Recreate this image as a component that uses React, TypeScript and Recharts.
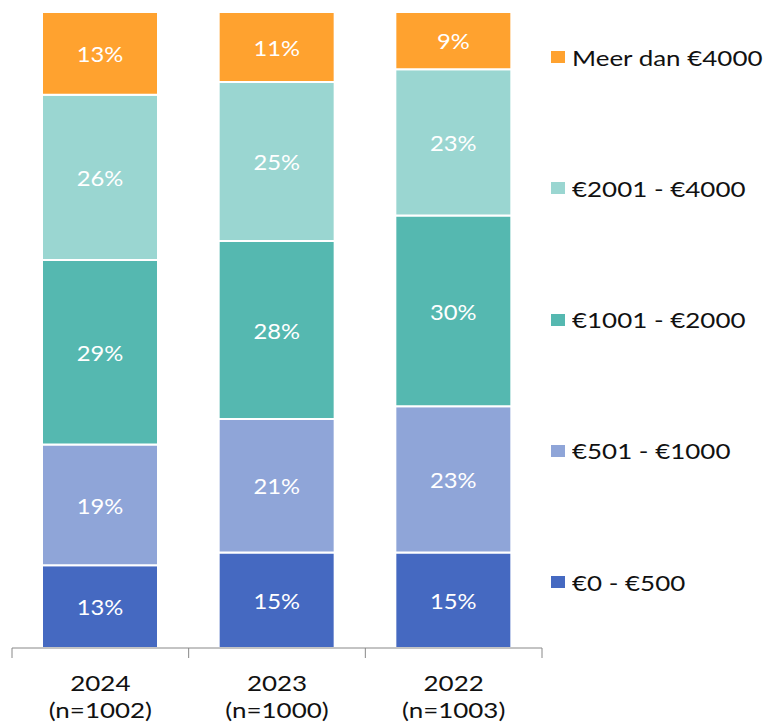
import { BarChart, Bar, XAxis, YAxis, Legend, LabelList } from "recharts";

const years = ["2024", "2023", "2022"];
const sampleSizes = ["(n=1002)", "(n=1000)", "(n=1003)"];

const upTo500 = [13, 15, 15];
const from501 = [19, 21, 23];
const from1001 = [29, 28, 30];
const from2001 = [26, 25, 23];
const over4000 = [13, 11, 9];

const SERIES = [
  { key: "a", name: "€0 - €500", values: upTo500, color: "#4569c1" },
  { key: "b", name: "€501 - €1000", values: from501, color: "#8fa5d8" },
  { key: "c", name: "€1001 - €2000", values: from1001, color: "#55b8b0" },
  { key: "d", name: "€2001 - €4000", values: from2001, color: "#9ad6d1" },
  { key: "e", name: "Meer dan €4000", values: over4000, color: "#ffa22f" },
];

const data = years.map((year, i) => {
  const row: Record<string, string | number> = { year };
  SERIES.forEach((s) => {
    row[s.key] = s.values[i];
  });
  return row;
});

const FONT = "Lato, 'Open Sans', sans-serif";
const BAND = 530 / 3;
// the reference text is a little wider than plain Lato
const STRETCH = 1.18;

function YearTick(props: any) {
  const { x, y, payload, index } = props;
  const left = x - BAND / 2;
  const right = x + BAND / 2;
  return (
    <g>
      <line x1={left} y1={y - 8} x2={left} y2={y + 2} stroke="#888" />
      {index === years.length - 1 && (
        <line x1={right} y1={y - 8} x2={right} y2={y + 2} stroke="#888" />
      )}
      <text
        transform={`translate(${x},${y + 35}) scale(${STRETCH},1)`}
        textAnchor="middle"
        fontSize={22}
        fontFamily={FONT}
        fill="#111"
      >
        {payload.value}
      </text>
      <text
        transform={`translate(${x},${y + 62}) scale(${STRETCH},1)`}
        textAnchor="middle"
        fontSize={22}
        fontFamily={FONT}
        fill="#111"
      >
        {sampleSizes[index]}
      </text>
    </g>
  );
}

function PctLabel(props: any) {
  const { x, y, width, height, value } = props;
  const cx = x + width / 2;
  const cy = y + height / 2;
  return (
    <text
      transform={`translate(${cx},${cy}) scale(1.08,1)`}
      textAnchor="middle"
      dominantBaseline="central"
      fontSize={22}
      fontFamily={FONT}
      fill="#fff"
    >
      {`${value}%`}
    </text>
  );
}

function renderLegend() {
  const items = [...SERIES].reverse();
  return (
    <div style={{ fontFamily: FONT }}>
      {items.map((s, i) => (
        <div
          key={s.key}
          style={{
            position: "absolute",
            left: 0,
            top: 57 + i * 131.25 - 15,
            height: 30,
            display: "flex",
            alignItems: "center",
            whiteSpace: "nowrap",
          }}
        >
          <span
            style={{
              display: "inline-block",
              width: 14,
              height: 12,
              background: s.color,
              marginRight: 7,
            }}
          />
          <span
            style={{
              display: "inline-block",
              fontSize: 22,
              color: "#111",
              transform: `scaleX(${STRETCH})`,
              transformOrigin: "left center",
            }}
          >
            {s.name}
          </span>
        </div>
      ))}
    </div>
  );
}

export default function App() {
  return (
    <div style={{ position: "absolute", left: 0, top: 0 }}>
      <BarChart
        width={774}
        height={726}
        data={data}
        margin={{ top: 12, right: 232, left: 12, bottom: 0 }}
        barSize={116}
      >
        <XAxis
          dataKey="year"
          height={78}
          axisLine={{ stroke: "#888" }}
          tickLine={false}
          tick={<YearTick />}
          interval={0}
        />
        <YAxis hide domain={[0, 100]} />
        <Legend
          content={renderLegend}
          wrapperStyle={{ position: "absolute", left: 551, top: 0, width: 223 }}
        />
        {SERIES.map((s) => (
          <Bar
            key={s.key}
            dataKey={s.key}
            name={s.name}
            stackId="total"
            fill={s.color}
            stroke="#fff"
            strokeWidth={2}
            isAnimationActive={false}
          >
            <LabelList dataKey={s.key} content={<PctLabel />} />
          </Bar>
        ))}
      </BarChart>
    </div>
  );
}
